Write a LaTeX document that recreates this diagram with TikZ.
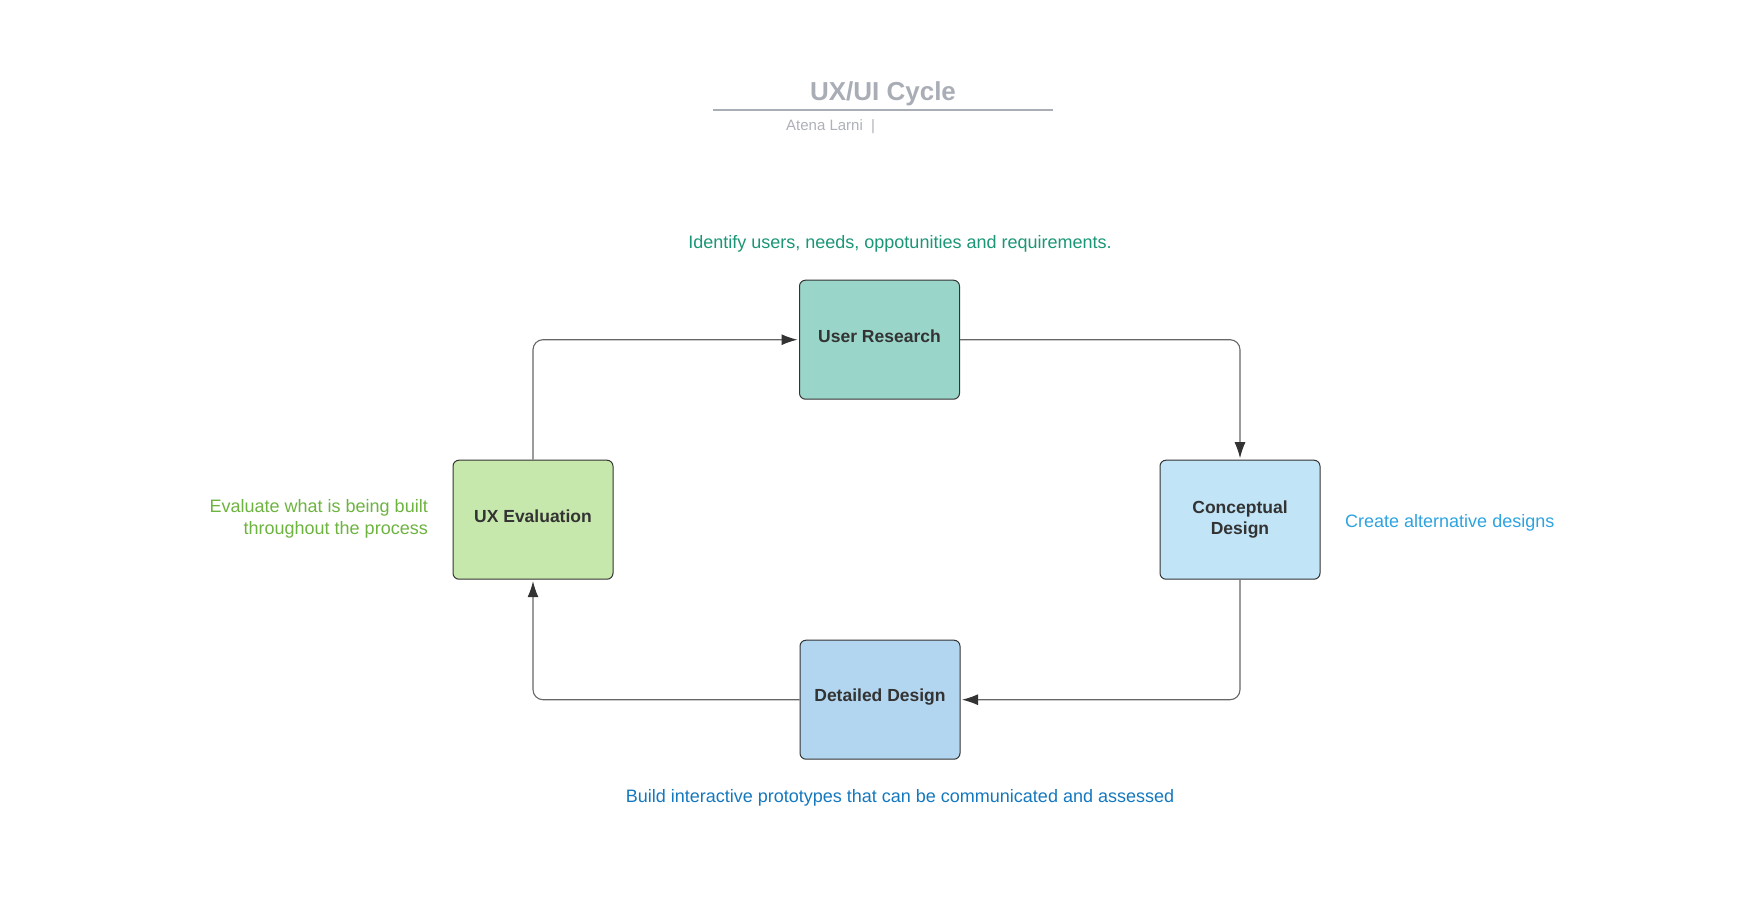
\documentclass[tikz,border=0pt]{standalone}
\usepackage{fontspec}
\setmainfont{Liberation Sans}
\usetikzlibrary{arrows.meta, positioning}

\definecolor{titlegray}{HTML}{A9ADB6}
\definecolor{subgray}{HTML}{AEB1B9}
\definecolor{edgegray}{HTML}{333333}
\definecolor{linegray}{HTML}{666666}
\definecolor{urfill}{HTML}{9AD5CA}
\definecolor{uxfill}{HTML}{C7E8AC}
\definecolor{cdfill}{HTML}{C1E4F7}
\definecolor{ddfill}{HTML}{B3D6F0}
\definecolor{urtext}{HTML}{1A9676}
\definecolor{uxtext}{HTML}{6DB33F}
\definecolor{cdtext}{HTML}{2DA3DF}
\definecolor{ddtext}{HTML}{1478BE}

\tikzset{
  stage/.style={draw=edgegray, line width=1pt, rounded corners=6pt,
    minimum width=160pt, minimum height=119pt},
  stagelabel/.style={yshift=3pt, align=center, text=edgegray,
    font=\fontsize{17.5}{21}\selectfont\bfseries},
  note/.style={font=\fontsize{18}{22}\selectfont},
  flow/.style={-{Latex[length=16pt, width=11pt, color=edgegray]}, draw=linegray,
    line width=1.1pt, rounded corners=10pt, shorten >=1.5pt}
}

\begin{document}
\begin{tikzpicture}[x=1pt, y=-1pt]
    \useasboundingbox (0,0) rectangle (1746,902);

    % Title
    \node (title) [text=titlegray, font=\fontsize{26}{30}\selectfont\bfseries] at (883,94) {UX/UI Cycle};
    \draw[titlegray, line width=2pt] (713,109.5) -- (1053,109.5);
    \node (author) [anchor=west, inner sep=0pt, text=subgray, font=\fontsize{15}{18}\selectfont] at (786,127) {Atena Larni~~|};

    % Nodes
    \node (ur) [stage, fill=urfill, label={[stagelabel]center:User Research}] at (879.5,339.7) {};
    \node (cd) [stage, fill=cdfill, label={[stagelabel, yshift=-3pt]center:Conceptual\\Design}] at (1240,519.7) {};
    \node (dd) [stage, fill=ddfill, label={[stagelabel]center:Detailed Design}] at (880,699.7) {};
    \node (ux) [stage, fill=uxfill, label={[stagelabel]center:UX Evaluation}] at (533,519.7) {};

    % Notes
    \node (urnote) [note, text=urtext] at (900,243.5) {Identify users, needs, oppotunities and requirements.};
    \node (cdnote) [note, text=cdtext, anchor=west, inner sep=0pt] at (1345,523) {Create alternative designs};
    \node (ddnote) [note, text=ddtext] at (900,797.5) {Build interactive prototypes that can be communicated and assessed};
    \node (uxnote) [note, text=uxtext, align=right, anchor=east, inner sep=0pt] at (428,519) {Evaluate what is being built\\throughout the process};

    % Edges
    \draw[flow] (ux.north) |- (ur.west);
    \draw[flow] (ur.east) -| (cd.north);
    \draw[flow] (cd.south) |- (dd.east);
    \draw[flow] (dd.west) -| (ux.south);
\end{tikzpicture}
\end{document}
